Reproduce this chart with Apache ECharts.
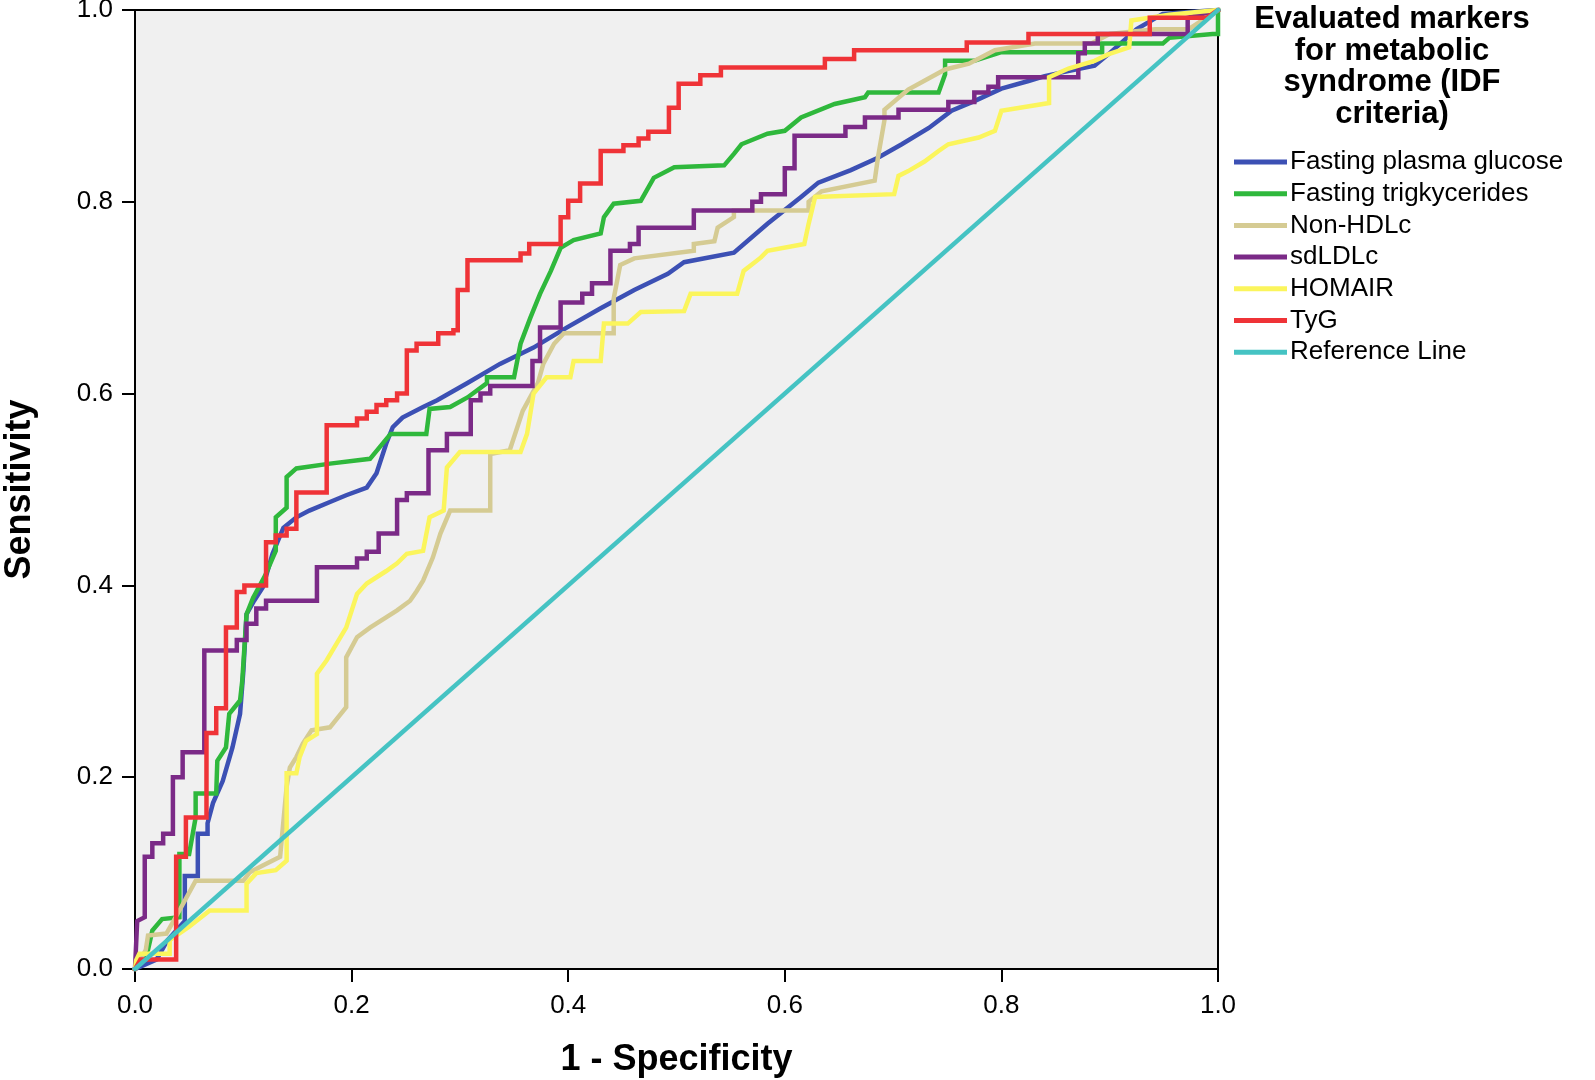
<!DOCTYPE html>
<html>
<head>
<meta charset="utf-8">
<script src="https://cdn.jsdelivr.net/npm/echarts@6/dist/echarts.min.js"></script>
<style>
html,body{margin:0;padding:0;background:#fff;}
#chart{width:1595px;height:1080px;}
</style>
</head>
<body>
<div id="chart"></div>
<script>
var seriesNames = ['Fasting plasma glucose','Fasting trigkycerides','Non-HDLc','sdLDLc','HOMAIR','TyG','Reference Line'];
var seriesColors = ['#3c50b4','#2fb83c','#d5cb93','#7b2a87','#fbf55c','#ef3337','#45c3c3'];
var tickValues = [0, 0.2, 0.4, 0.6, 0.8, 1.0];

var fpgData = [[0,0],[0.02,0.01],[0.03,0.03],[0.046,0.05],[0.046,0.097],[0.058,0.097],[0.058,0.141],[0.067,0.141],[0.067,0.152],[0.072,0.173],[0.081,0.196],[0.09,0.231],[0.097,0.266],[0.1,0.31],[0.103,0.37],[0.11,0.384],[0.118,0.398],[0.127,0.433],[0.137,0.46],[0.149,0.471],[0.161,0.478],[0.18,0.487],[0.195,0.494],[0.214,0.502],[0.223,0.517],[0.232,0.548],[0.238,0.565],[0.247,0.575],[0.266,0.586],[0.279,0.593],[0.307,0.611],[0.337,0.631],[0.368,0.648],[0.399,0.669],[0.43,0.689],[0.461,0.708],[0.492,0.725],[0.507,0.737],[0.553,0.747],[0.584,0.777],[0.615,0.805],[0.631,0.82],[0.661,0.833],[0.686,0.846],[0.708,0.86],[0.733,0.877],[0.754,0.895],[0.775,0.905],[0.8,0.918],[0.825,0.926],[0.84,0.931],[0.856,0.935],[0.886,0.942],[0.9,0.955],[0.925,0.98],[0.949,0.996],[1,1]];

var tgData = [[0,0],[0.012,0.02],[0.016,0.04],[0.025,0.052],[0.041,0.054],[0.041,0.12],[0.05,0.12],[0.056,0.158],[0.056,0.183],[0.075,0.183],[0.076,0.217],[0.084,0.231],[0.087,0.266],[0.097,0.28],[0.099,0.30],[0.103,0.37],[0.109,0.387],[0.12,0.41],[0.13,0.436],[0.13,0.471],[0.14,0.481],[0.14,0.513],[0.149,0.522],[0.18,0.527],[0.217,0.532],[0.236,0.558],[0.269,0.558],[0.272,0.584],[0.291,0.586],[0.307,0.596],[0.325,0.611],[0.325,0.617],[0.35,0.617],[0.356,0.652],[0.365,0.679],[0.374,0.704],[0.384,0.728],[0.393,0.752],[0.405,0.76],[0.43,0.767],[0.433,0.784],[0.442,0.798],[0.467,0.801],[0.479,0.825],[0.498,0.836],[0.544,0.838],[0.553,0.85],[0.56,0.86],[0.584,0.871],[0.6,0.874],[0.615,0.888],[0.646,0.902],[0.674,0.909],[0.677,0.914],[0.742,0.914],[0.748,0.933],[0.748,0.947],[0.775,0.947],[0.8,0.956],[0.893,0.956],[0.893,0.965],[0.949,0.965],[0.955,0.971],[0.995,0.975],[1,0.975],[1,1]];

var nonHdlData = [[0,0],[0.01,0.02],[0.012,0.035],[0.029,0.037],[0.041,0.061],[0.056,0.092],[0.1,0.092],[0.106,0.101],[0.118,0.108],[0.134,0.117],[0.14,0.19],[0.143,0.21],[0.149,0.221],[0.155,0.235],[0.163,0.249],[0.18,0.252],[0.195,0.273],[0.195,0.325],[0.205,0.346],[0.217,0.356],[0.242,0.374],[0.254,0.384],[0.26,0.394],[0.266,0.405],[0.275,0.429],[0.282,0.454],[0.291,0.478],[0.328,0.478],[0.328,0.537],[0.346,0.541],[0.358,0.582],[0.372,0.611],[0.377,0.631],[0.387,0.652],[0.396,0.663],[0.442,0.663],[0.442,0.699],[0.448,0.734],[0.461,0.741],[0.516,0.749],[0.516,0.756],[0.535,0.759],[0.538,0.773],[0.553,0.784],[0.553,0.791],[0.622,0.791],[0.622,0.80],[0.634,0.811],[0.683,0.822],[0.686,0.846],[0.692,0.885],[0.692,0.896],[0.714,0.917],[0.748,0.938],[0.77,0.944],[0.794,0.958],[0.831,0.965],[0.883,0.965],[0.9,0.975],[0.942,0.98],[0.973,0.98],[1,1]];

var sdldlData = [[0,0],[0.002,0.05],[0.009,0.054],[0.009,0.117],[0.016,0.117],[0.016,0.131],[0.026,0.131],[0.026,0.141],[0.035,0.141],[0.035,0.20],[0.044,0.20],[0.044,0.226],[0.064,0.226],[0.064,0.332],[0.094,0.332],[0.094,0.343],[0.103,0.343],[0.103,0.36],[0.112,0.36],[0.112,0.376],[0.121,0.376],[0.121,0.384],[0.168,0.384],[0.168,0.419],[0.205,0.419],[0.205,0.428],[0.214,0.428],[0.214,0.435],[0.225,0.435],[0.225,0.454],[0.242,0.454],[0.242,0.489],[0.251,0.489],[0.251,0.496],[0.271,0.496],[0.271,0.541],[0.288,0.541],[0.288,0.558],[0.31,0.558],[0.31,0.593],[0.319,0.593],[0.319,0.60],[0.328,0.60],[0.328,0.608],[0.367,0.608],[0.367,0.634],[0.374,0.634],[0.374,0.669],[0.393,0.669],[0.393,0.695],[0.413,0.695],[0.413,0.704],[0.422,0.704],[0.422,0.715],[0.439,0.715],[0.439,0.749],[0.457,0.749],[0.457,0.756],[0.465,0.756],[0.465,0.773],[0.516,0.773],[0.516,0.791],[0.57,0.791],[0.57,0.80],[0.578,0.80],[0.578,0.808],[0.6,0.808],[0.6,0.835],[0.609,0.835],[0.609,0.869],[0.656,0.869],[0.656,0.878],[0.674,0.878],[0.674,0.888],[0.705,0.888],[0.705,0.896],[0.751,0.896],[0.751,0.904],[0.775,0.904],[0.775,0.914],[0.788,0.914],[0.788,0.92],[0.797,0.92],[0.797,0.93],[0.871,0.93],[0.871,0.955],[0.877,0.955],[0.877,0.965],[0.889,0.965],[0.889,0.975],[0.972,0.975],[0.972,0.992],[1,1]];

var homairData = [[0,0],[0.001,0.009],[0.004,0.016],[0.032,0.016],[0.032,0.03],[0.041,0.037],[0.05,0.044],[0.069,0.061],[0.103,0.061],[0.103,0.089],[0.112,0.10],[0.13,0.103],[0.14,0.113],[0.14,0.204],[0.149,0.204],[0.152,0.221],[0.158,0.238],[0.168,0.245],[0.168,0.308],[0.177,0.322],[0.186,0.339],[0.195,0.356],[0.205,0.391],[0.214,0.402],[0.232,0.415],[0.242,0.423],[0.251,0.433],[0.266,0.436],[0.272,0.471],[0.285,0.478],[0.288,0.523],[0.3,0.539],[0.356,0.539],[0.362,0.558],[0.368,0.60],[0.38,0.617],[0.402,0.617],[0.405,0.634],[0.43,0.634],[0.433,0.673],[0.455,0.673],[0.467,0.685],[0.507,0.686],[0.513,0.704],[0.556,0.704],[0.562,0.728],[0.578,0.742],[0.584,0.749],[0.618,0.756],[0.622,0.777],[0.628,0.805],[0.701,0.808],[0.705,0.827],[0.714,0.832],[0.729,0.842],[0.742,0.853],[0.751,0.86],[0.779,0.867],[0.794,0.874],[0.8,0.895],[0.844,0.903],[0.844,0.93],[0.862,0.939],[0.886,0.947],[0.899,0.954],[0.918,0.961],[0.92,0.989],[0.955,0.995],[1,1]];

var tygData = [[0,0],[0.005,0.01],[0.038,0.01],[0.038,0.117],[0.047,0.117],[0.047,0.158],[0.066,0.158],[0.066,0.246],[0.075,0.246],[0.075,0.272],[0.084,0.272],[0.084,0.356],[0.094,0.356],[0.094,0.393],[0.101,0.393],[0.101,0.40],[0.121,0.40],[0.121,0.445],[0.13,0.445],[0.13,0.452],[0.14,0.452],[0.14,0.459],[0.149,0.459],[0.149,0.497],[0.177,0.497],[0.177,0.567],[0.205,0.567],[0.205,0.574],[0.214,0.574],[0.214,0.581],[0.223,0.581],[0.223,0.588],[0.232,0.588],[0.232,0.593],[0.242,0.593],[0.242,0.60],[0.251,0.60],[0.251,0.645],[0.260,0.645],[0.260,0.652],[0.28,0.652],[0.28,0.663],[0.294,0.663],[0.294,0.666],[0.298,0.666],[0.298,0.708],[0.307,0.708],[0.307,0.739],[0.356,0.739],[0.356,0.746],[0.364,0.746],[0.364,0.756],[0.393,0.756],[0.393,0.784],[0.40,0.784],[0.40,0.801],[0.411,0.801],[0.411,0.819],[0.43,0.819],[0.43,0.853],[0.451,0.853],[0.451,0.859],[0.465,0.859],[0.465,0.866],[0.474,0.866],[0.474,0.873],[0.493,0.873],[0.493,0.898],[0.502,0.898],[0.502,0.923],[0.522,0.923],[0.522,0.932],[0.541,0.932],[0.541,0.94],[0.637,0.94],[0.637,0.949],[0.664,0.949],[0.664,0.958],[0.768,0.958],[0.768,0.966],[0.825,0.966],[0.825,0.975],[0.937,0.975],[0.937,0.992],[0.99,0.992],[1,1]];

var refData = [[0,0],[1,1]];

var allData = [fpgData, tgData, nonHdlData, sdldlData, homairData, tygData, refData];

var FONT = "'Liberation Sans', Arial, sans-serif";
var chart = echarts.init(document.getElementById('chart'), null, {renderer:'canvas'});

var series = seriesNames.map(function(name, i){
  return {
    name: name,
    type: 'line',
    data: allData[i],
    showSymbol: false,
    symbol: 'none',
    lineStyle: {color: seriesColors[i], width: 4.5, cap: 'square', join: 'miter'},
    itemStyle: {color: seriesColors[i]},
    z: 2 + i,
    silent: true
  };
});

function axisCommon(margin){
  return {
    type: 'value', min: 0, max: 1, interval: 0.2,
    axisLine: {show: true, onZero: false, lineStyle: {color: '#000', width: 2}},
    axisTick: {show: true, inside: false, length: 13, lineStyle: {color: '#000', width: 2}},
    axisLabel: {color: '#000', fontSize: 26, fontFamily: FONT, margin: margin,
      showMinLabel: true, showMaxLabel: true,
      formatter: function(v){ return v.toFixed(1); }},
    splitLine: {show: false},
    nameLocation: 'middle',
    nameTextStyle: {color: '#000', fontSize: 36, fontWeight: 'bold', fontFamily: FONT}
  };
}

var xAxis = axisCommon(24);
xAxis.name = '1 - Specificity';
xAxis.nameGap = 73;
var yAxis = axisCommon(22);
yAxis.name = 'Sensitivity';
yAxis.nameGap = 97;

chart.setOption({
  animation: false,
  backgroundColor: '#ffffff',
  grid: {left: 135, right: 377, top: 10, bottom: 111, show: true, containLabel: false,
         outerBoundsMode: 'none',
         backgroundColor: '#f0f0f0', borderColor: '#000', borderWidth: 2},
  title: {
    text: 'Evaluated markers\nfor metabolic\nsyndrome (IDF\ncriteria)',
    left: 1387, top: -1, textAlign: 'center',
    textStyle: {color: '#000', fontSize: 31, fontWeight: 'bold', fontFamily: FONT, lineHeight: 31.5, align: 'center'}
  },
  legend: {
    orient: 'vertical', left: 1229, top: 144,
    itemWidth: 53, itemHeight: 5, itemGap: 5.7,
    icon: 'rect',
    data: seriesNames,
    textStyle: {color: '#000', fontSize: 26, fontFamily: FONT, lineHeight: 25, padding: [0,0,0,-2]},
    selectedMode: false
  },
  xAxis: xAxis,
  yAxis: yAxis,
  series: series
});
</script>
</body>
</html>
